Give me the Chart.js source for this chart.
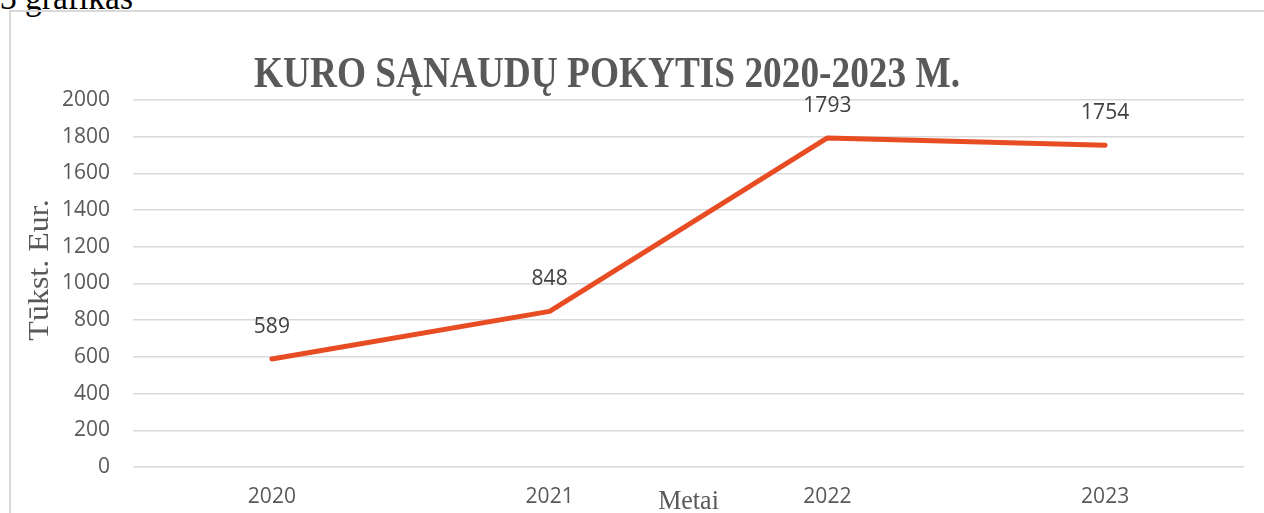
<!DOCTYPE html>
<html lang="lt">
<head>
    <meta charset="UTF-8">
    <title>Kuro sąnaudų pokytis</title>
    <script src="https://cdn.jsdelivr.net/npm/chart.js"></script>
    <style>
        body {
            margin: 0;
            background: #fff;
            width: 1264px;
            height: 513px;
            overflow: hidden;
            position: relative;
        }
        .caption {
            position: absolute;
            left: 0;
            top: -21px;
            font-family: "Liberation Serif", serif;
            font-size: 36px;
            line-height: 36px;
            color: #000;
            transform: scaleX(0.93);
            transform-origin: left top;
            white-space: nowrap;
        }
        .frame {
            position: absolute;
            left: 9px;
            top: 10px;
            width: 1300px;
            height: 560px;
            border: 2px solid #d9d9d9;
        }
        #wrap {
            position: absolute;
            left: 0;
            top: 0;
            width: 1264px;
            height: 513px;
        }
    </style>
</head>
<body>
    <div class="caption">3 grafikas</div>
    <div class="frame"></div>
    <div id="wrap"><canvas id="chart" width="1264" height="513"></canvas></div>
    <script>
        const years = ['2020', '2021', '2022', '2023'];
        const fuelCosts = [589, 848, 1793, 1754];
        const yTicks = [0, 200, 400, 600, 800, 1000, 1200, 1400, 1600, 1800, 2000];

        const chartTitle = 'KURO SĄNAUDŲ POKYTIS 2020-2023 M.';
        const yTitle = 'Tūkst. Eur.';
        const xTitle = 'Metai';

        // squeezed serif text, like the original picture
        function squeezed(ctx, text, x, y, font, sx) {
            ctx.save();
            ctx.font = font;
            ctx.translate(x, y);
            ctx.scale(sx, 1);
            ctx.fillText(text, 0, 0);
            ctx.restore();
        }

        const extras = {
            id: 'extras',
            afterDraw(chart) {
                const ctx = chart.ctx;
                const area = chart.chartArea;
                ctx.save();
                ctx.fillStyle = '#595959';
                ctx.textAlign = 'center';
                ctx.textBaseline = 'alphabetic';
                ctx.font = 'bold 44px "Liberation Serif"';
                const tw = ctx.measureText(chartTitle).width;
                squeezed(ctx, chartTitle, 607, 87, 'bold 44px "Liberation Serif"', 706 / tw);
                squeezed(ctx, xTitle, (area.left + area.right) / 2, 509, '28px "Liberation Serif"', 0.93);

                ctx.save();
                ctx.font = '32px "Liberation Serif"';
                ctx.translate(40, 270);
                ctx.rotate(-Math.PI / 2);
                ctx.scale(1, 0.93);
                ctx.textBaseline = 'middle';
                ctx.fillText(yTitle, 0, 0);
                ctx.restore();

                // value labels above the points
                ctx.fillStyle = '#404040';
                ctx.font = '21px "Open Sans"';
                ctx.textBaseline = 'middle';
                const meta = chart.getDatasetMeta(0);
                meta.data.forEach((pt, i) => {
                    ctx.fillText(String(fuelCosts[i]), pt.x, pt.y - 32);
                });
                ctx.restore();
            }
        };

        const ctx = document.getElementById('chart').getContext('2d');
        new Chart(ctx, {
            type: 'line',
            data: {
                labels: years,
                datasets: [{
                    data: fuelCosts,
                    borderColor: '#E84C22',
                    borderWidth: 5,
                    borderCapStyle: 'round',
                    borderJoinStyle: 'round',
                    pointRadius: 0,
                    tension: 0,
                    fill: false
                }]
            },
            options: {
                responsive: false,
                animation: false,
                layout: { padding: { top: 100, right: 20, bottom: 0, left: 0 } },
                plugins: {
                    legend: { display: false },
                    title: { display: false },
                    tooltip: { enabled: false }
                },
                scales: {
                    x: {
                        offset: true,
                        grid: { display: false, drawTicks: false },
                        border: { display: false },
                        ticks: {
                            color: '#595959',
                            font: { family: '"Open Sans"', size: 21 },
                            padding: 17,
                            maxRotation: 0
                        },
                        afterFit(scale) { scale.height = 46; }
                    },
                    y: {
                        min: 0,
                        max: 2000,
                        grid: { color: '#d9d9d9', lineWidth: 1.5, drawTicks: false },
                        border: { display: false },
                        afterBuildTicks(scale) {
                            scale.ticks = yTicks.map(v => ({ value: v }));
                        },
                        ticks: {
                            color: '#595959',
                            font: { family: '"Open Sans"', size: 21 },
                            padding: 23,
                            callback: v => String(v)
                        },
                        afterFit(scale) { scale.width = 133; }
                    }
                }
            },
            plugins: [extras]
        });
    </script>
</body>
</html>
